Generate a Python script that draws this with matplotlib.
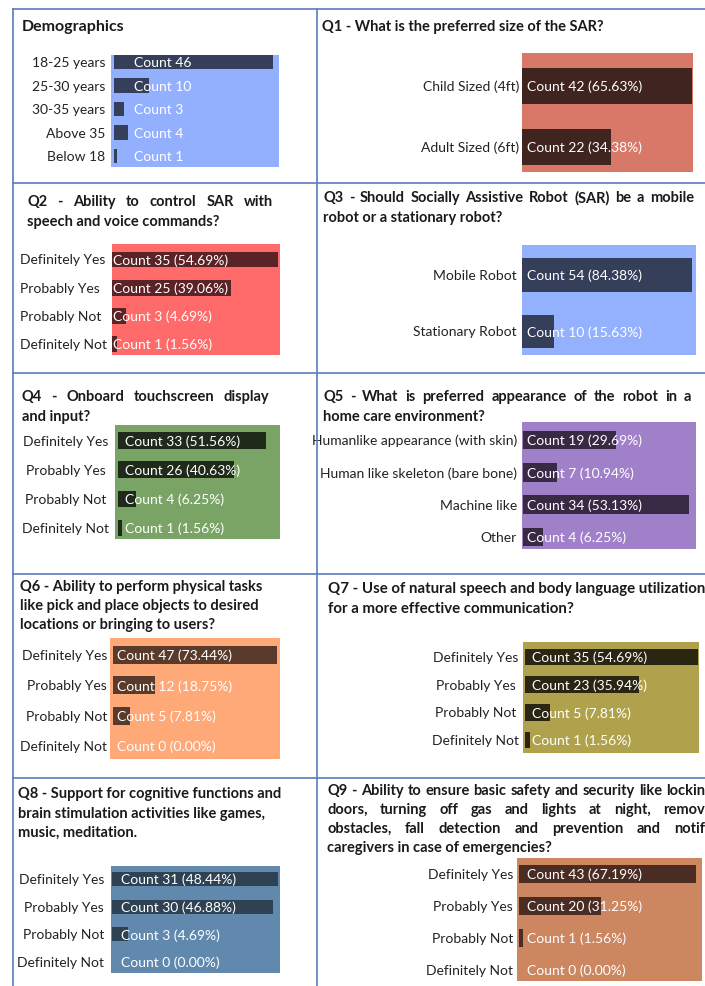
import matplotlib
matplotlib.use("Agg")
import matplotlib.pyplot as plt
from matplotlib.lines import Line2D
from matplotlib.transforms import blended_transform_factory, offset_copy

# survey answers
demo_labels = ["18-25 years", "25-30 years", "30-35 years", "Above 35", "Below 18"]
demo_counts = [46, 10, 3, 4, 1]

q1_labels = ["Child Sized (4ft)", "Adult Sized (6ft)"]
q1_counts = [42, 22]
q1_pcts = [65.63, 34.38]

yn_labels = ["Definitely Yes", "Probably Yes", "Probably Not", "Definitely Not"]

q2_counts = [35, 25, 3, 1]
q2_pcts = [54.69, 39.06, 4.69, 1.56]

q3_labels = ["Mobile Robot", "Stationary Robot"]
q3_counts = [54, 10]
q3_pcts = [84.38, 15.63]

q4_counts = [33, 26, 4, 1]
q4_pcts = [51.56, 40.63, 6.25, 1.56]

q5_labels = ["Humanlike appearance (with skin)", "Human like skeleton (bare bone)",
             "Machine like", "Other"]
q5_counts = [19, 7, 34, 4]
q5_pcts = [29.69, 10.94, 53.13, 6.25]

q6_counts = [47, 12, 5, 0]
q6_pcts = [73.44, 18.75, 7.81, 0.00]

q7_counts = [35, 23, 5, 1]
q7_pcts = [54.69, 35.94, 7.81, 1.56]

q8_counts = [31, 30, 3, 0]
q8_pcts = [48.44, 46.88, 4.69, 0.00]

q9_counts = [43, 20, 1, 0]
q9_pcts = [67.19, 31.25, 1.56, 0.00]

W, H = 705, 987
FONT = "Lato"
fig = plt.figure(figsize=(W / 100, H / 100), dpi=100)
renderer = fig.canvas.get_renderer()


def fx(x):
    return x / W


def fy(y):
    return 1 - y / H


def title_line(text, x0, y, x1=None, size=10.5):
    kw = dict(fontsize=size, fontweight="bold", color="#1a1a1a",
              family=FONT, va="center", ha="left")
    if x1 is None:
        fig.text(fx(x0), fy(y), text, **kw)
        return
    # spread the words so the line fills x0..x1
    words = text.split()
    items = [fig.text(0, fy(y), w, **kw) for w in words]
    widths = [t.get_window_extent(renderer).width for t in items]
    gap = (x1 - x0 - sum(widths)) / (len(words) - 1)
    x = x0
    for t, w in zip(items, widths):
        t.set_x(fx(x))
        x += w + gap


def bar_panel(labels, counts, pcts, box, start, ppc, c0, step, height,
              toff, lx, ha, bg, bar, size=10):
    x0, y0, x1, y1 = box
    ax = fig.add_axes([fx(x0), fy(y1), fx(x1) - fx(x0), (y1 - y0) / H])
    n = len(counts)
    pos = list(range(n))
    ax.barh(pos, counts, height=height, color=bar, zorder=2)
    ax.set_xlim((x0 - start) / ppc, (x1 - start) / ppc)
    ax.set_ylim(n - 1 + (y1 - (c0 + step * (n - 1))) / step, -(c0 - y0) / step)
    ax.set_facecolor(bg)
    for s in ax.spines.values():
        s.set_visible(False)
    ax.set_xticks([])
    ax.set_yticks([])
    lab_tr = blended_transform_factory(fig.transFigure, ax.transData)
    cnt_tr = offset_copy(ax.transData, fig=fig, x=toff, y=0, units="dots")
    for i in pos:
        ax.text(fx(lx), i, labels[i], transform=lab_tr, ha=ha, va="center",
                fontsize=size, color="#222222", family=FONT, clip_on=False)
        if pcts is None:
            s = f"Count {counts[i]}"
        else:
            s = f"Count {counts[i]} ({pcts[i]:.2f}%)"
        ax.text(0, i, s, transform=cnt_tr, ha="left", va="center",
                fontsize=size, color="white", family=FONT, zorder=3)
    return ax


# Demographics
title_line("Demographics", 22, 27, size=11.5)
bar_panel(demo_labels, demo_counts, None, (111, 56, 279, 168), 114, 3.46, 63, 23.5,
          0.6, 20, 105, "right", "#93B0FF", "#363F5A")

# Q1
title_line("Q1 - What is the preferred size of the SAR?", 322, 27)
bar_panel(q1_labels, q1_counts, q1_pcts, (522, 54, 693, 173), 522, 4.05, 87, 61,
          0.6, 5, 519, "right", "#D87868", "#3F2420")

# Q2
title_line("Q2 - Ability to control SAR with", 27, 202, 273)
title_line("speech and voice commands?", 27, 222)
bar_panel(yn_labels, q2_counts, q2_pcts, (112, 245, 280, 356), 112, 4.74, 260.5, 28.2,
          0.56, 1, 20, "left", "#FF6B6B", "#5C2326")

# Q3
title_line("Q3 - Should Socially Assistive Robot (SAR) be a mobile", 323, 198, 694)
title_line("robot or a stationary robot?", 323, 218)
bar_panel(q3_labels, q3_counts, q3_pcts, (522, 246, 696, 356), 522, 3.15, 276, 56.5,
          0.6, 5, 517, "right", "#94B1FF", "#363F5A")

# Q4
title_line("Q4 - Onboard touchscreen display", 22, 397, 269)
title_line("and input?", 22, 417)
bar_panel(yn_labels, q4_counts, q4_pcts, (115, 426, 280, 540), 118, 4.48, 441.5, 29.2,
          0.57, 7, 66, "center", "#7AA466", "#1F2A1B")

# Q5
title_line("Q5 - What is preferred appearance of the robot in a", 323, 397, 691)
title_line("home care environment?", 323, 417)
bar_panel(q5_labels, q5_counts, q5_pcts, (522, 423, 696, 550), 523, 4.88, 441, 32.3,
          0.57, 4, 517, "right", "#A080C8", "#382A45")

# Q6
title_line("Q6 - Ability to perform physical tasks", 20, 587)
title_line("like pick and place objects to desired", 20, 606)
title_line("locations or bringing to users?", 20, 625)
bar_panel(yn_labels, q6_counts, q6_pcts, (110, 639, 280, 760), 113, 3.49, 656, 30.3,
          0.59, 4, 107, "right", "#FFA878", "#5A3A2A")

# Q7
title_line("Q7 - Use of natural speech and body language utilization", 328, 589, size=10.8)
title_line("for a more effective communication?", 328, 609, size=10.8)
bar_panel(yn_labels, q7_counts, q7_pcts, (523, 643, 699, 754), 525, 4.94, 658, 27.7,
          0.6, 7, 476, "center", "#B0A24C", "#2A2612")

# Q8
title_line("Q8 - Support for cognitive functions and", 18, 794)
title_line("brain stimulation activities like games,", 18, 814)
title_line("music, meditation.", 18, 833)
bar_panel(yn_labels, q8_counts, q8_pcts, (111, 867, 280, 974), 112, 5.35, 880, 27.7,
          0.5, 9, 104, "right", "#6089AD", "#2F4253")

# Q9
title_line("Q9 - Ability to ensure basic safety and security like locking", 327, 791, 713)
title_line("doors, turning off gas and lights at night, remove", 327, 810, 713)
title_line("obstacles, fall detection and prevention and notify", 327, 829, 713)
title_line("caregivers in case of emergencies?", 327, 848)
bar_panel(yn_labels, q9_counts, q9_pcts, (517, 859, 702, 982), 519, 4.12, 875, 32,
          0.57, 8, 513, "right", "#CC8660", "#4A2C22")

# table grid
grid = "#5B7BC0"
for y in [10, 184, 374, 575, 779]:
    fig.add_artist(Line2D([fx(13), 1], [fy(y), fy(y)], color=grid, lw=1.2))
for x in [13, 317]:
    fig.add_artist(Line2D([fx(x), fx(x)], [fy(10), 0], color=grid, lw=1.2))

fig.savefig("out.png", dpi=100)
